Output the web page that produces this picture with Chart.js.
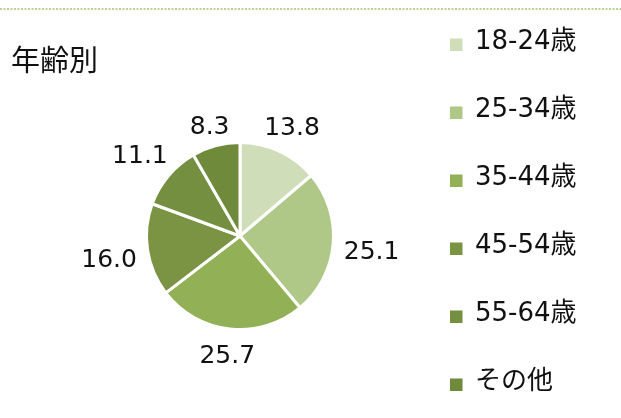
<!DOCTYPE html>
<html><head><meta charset="utf-8">
<script src="https://cdn.jsdelivr.net/npm/chart.js@4/dist/chart.umd.min.js"></script>
<style>html,body{margin:0;padding:0;background:#fff;}#wrap{width:621px;height:418px;position:relative;}</style>
</head><body><div id="wrap"><canvas id="c" width="621" height="418"></canvas></div>
<script>
const title = "年齢別";
const categories = ["18-24歳", "25-34歳", "35-44歳", "45-54歳", "55-64歳", "その他"];
const values = [13.8, 25.1, 25.7, 16.0, 11.1, 8.3];
const colors = ["#CFDDB9", "#AFC887", "#92B055", "#7A9444", "#748F3F", "#6E8A3A"];
const FONT = '"DejaVu Sans", "Noto Sans CJK JP", sans-serif';

const deco = {
  id: 'deco',
  afterDraw(chart) {
    const ctx = chart.ctx;
    ctx.save();
    // top dotted line
    ctx.strokeStyle = '#A6C46C';
    ctx.lineWidth = 1.3;
    ctx.setLineDash([2, 1.5]);
    ctx.beginPath(); ctx.moveTo(0, 9); ctx.lineTo(621, 9); ctx.stroke();
    ctx.setLineDash([]);
    // title
    ctx.fillStyle = '#111';
    ctx.font = '29px ' + FONT;
    ctx.textBaseline = 'middle';
    ctx.textAlign = 'left';
    ctx.fillText(title, 11, 63);
    // data labels
    const meta = chart.getDatasetMeta(0);
    ctx.font = '25px ' + FONT;
    ctx.textAlign = 'center';
    meta.data.forEach((arc, i) => {
      const mid = (arc.startAngle + arc.endAngle) / 2;
      const dx = Math.cos(mid), dy = Math.sin(mid);
      const txt = values[i].toFixed(1);
      const w = ctx.measureText(txt).width;
      const h = 19;
      const D = arc.outerRadius + 10 + Math.abs(dx) * w / 2 + Math.abs(dy) * h / 2;
      ctx.fillText(txt, arc.x + dx * D, arc.y + dy * D + 5);
    });
    // legend
    ctx.font = '26px ' + FONT;
    ctx.textAlign = 'left';
    chart.data.labels.forEach((lab, i) => {
      const y = 42 + i * 68;
      ctx.fillStyle = chart.data.datasets[0].backgroundColor[i];
      ctx.fillRect(450, y - 3.5, 12.5, 12.5);
      ctx.fillStyle = '#111';
      ctx.fillText(lab, 475, y);
    });
    ctx.restore();
  }
};

new Chart(document.getElementById('c'), {
  type: 'pie',
  data: { labels: categories, datasets: [{ data: values, backgroundColor: colors, borderColor: '#fff', borderWidth: 3 }] },
  options: {
    responsive: false, animation: false,
    layout: { padding: { left: 145, right: 286, top: 141, bottom: 87 } },
    plugins: { legend: { display: false }, tooltip: { enabled: false } }
  },
  plugins: [deco]
});
</script></body></html>
